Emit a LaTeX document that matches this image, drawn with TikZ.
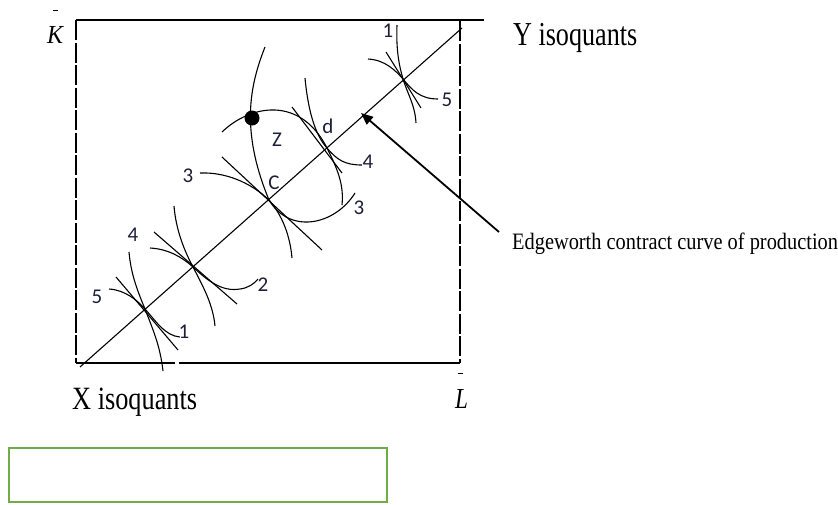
\documentclass[tikz,border=0pt]{standalone}
\usepackage{fontspec}
\setmainfont{Liberation Serif}
\newfontfamily\numfont{Carlito}
\usetikzlibrary{arrows.meta}
\definecolor{numc}{RGB}{30,30,55}
\definecolor{boxgreen}{RGB}{112,173,71}
\begin{document}
\begin{tikzpicture}[x=1pt,y=-1pt,
  curve/.style={line width=1.1pt, black},
  tline/.style={line width=1.1pt, black},
  edge/.style={line width=1.7pt, black},
  dashedge/.style={line width=1.7pt, black, dash pattern=on 20pt off 2.5pt},
  num/.style={font=\numfont\fontsize{21}{22}\selectfont, inner sep=0pt, text=numc},
  serifbig/.style={inner sep=0pt, anchor=base west}]
\useasboundingbox (0,0) rectangle (838,504);

% box
\draw[edge] (76,20) -- (372,20);
\draw[line width=1.3pt] (372,20) -- (484,20);
\draw[dashedge] (76,20) -- (76,363);
\draw[dashedge] (460,21) -- (460,363);
\draw[line width=1.4pt] (76,363) -- (175,363);
\draw[line width=1.4pt] (179,363) -- (460,363);

% diagonal (contract curve)
\coordinate (Ox) at (80,367);
\coordinate (Oy) at (462,28);
\draw[tline] (Ox) -- (Oy);

% tangency points
\coordinate (P1) at (145,309);
\coordinate (P2) at (193,267);
\coordinate (C) at (269,200);
\coordinate (D) at (327,148);
\coordinate (P5) at (403,79);

% point P1
\draw[curve] (109,289) .. controls (125,290) and (137,300) .. (P1)
             .. controls (155,320) and (165,336) .. (180,337);
\draw[curve] (129,252) .. controls (131,275) and (138,292) .. (P1)
             .. controls (153,330) and (160,345) .. (163,371);
\draw[tline] (116,277) -- (178,350);

% point P2
\draw[curve] (150,248) .. controls (168,249) and (182,257) .. (P2)
             .. controls (208,281) and (222,292) .. (240,289)
             .. controls (248,288) and (254,284) .. (258,279);
\draw[curve] (174,206) .. controls (176,230) and (184,250) .. (P2)
             .. controls (204,288) and (213,305) .. (215,326);
\draw[tline] (154,232) -- (237,304);

% point C
\draw[curve] (200,173) .. controls (225,172) and (250,182) .. (C)
             .. controls (282,215) and (290,235) .. (292,258);
\draw[curve] (265,47) .. controls (250,85) and (240,130) .. (C)
             .. controls (290,235) and (335,225) .. (355,193);
\draw[tline] (222,157) -- (322,250);

% point d
\draw[curve] (222,132) .. controls (250,105) and (300,95) .. (D)
             .. controls (338,170) and (344,185) .. (342,205);
\draw[curve] (305,78) .. controls (308,110) and (315,135) .. (D)
             .. controls (337,160) and (345,165) .. (362,165);
\draw[tline] (292,107) -- (342,173);

% point P5
\draw[curve] (368,59) .. controls (385,60) and (395,70) .. (P5)
             .. controls (412,90) and (420,99) .. (438,99);
\draw[curve] (397,25) .. controls (396,50) and (399,65) .. (P5)
             .. controls (408,95) and (415,105) .. (416,123);
\draw[tline] (386,52) -- (421,108);

% dot Z
\fill (252,118) circle (7.5pt);

% numbers
\node[num] (n1t) at (388,31) {1};
\node[num] (n5t) at (447,100) {5};
\node[num] (nd) at (328,126) {d};
\node[num] (nZ) at (277,140) {Z};
\node[num] (n4r) at (368,162) {4};
\node[num] (n3r) at (359,208) {3};
\node[num] (n3l) at (188,176) {3};
\node[num] (nC) at (274,183) {C};
\node[num] (n4l) at (133,235) {4};
\node[num] (n2) at (263,285) {2};
\node[num] (n5l) at (97,297) {5};
\node[num] (n1b) at (184,332) {1};

% arrow
\coordinate (arrS) at (499,232);
\coordinate (arrT) at (361,113);
\draw[line width=1.8pt, -{Triangle[length=12pt,width=10pt]}] (arrS) -- (arrT);

% labels
\node[serifbig, xscale=0.78, font=\fontsize{33.5}{36}\selectfont] (ylab) at (513,45) {Y isoquants};
\node[serifbig, xscale=0.81, font=\fontsize{32.5}{35}\selectfont] (xlab) at (72,409) {X isoquants};
\node[serifbig, xscale=0.867, font=\fontsize{23.5}{26}\selectfont] (elab) at (512,249) {Edgeworth contract curve of production};
\node[serifbig, xscale=0.92, font=\fontsize{26}{28}\selectfont] (klab) at (47,43) {\textit{K}};
\draw[line width=1pt] (53,10) -- (57.5,10);
\node[serifbig, xscale=0.8, font=\fontsize{29}{31}\selectfont] (llab) at (455,408) {\textit{L}};
\draw[line width=1pt] (458,373) -- (462.5,373);

% green box
\draw[boxgreen, line width=2pt] (9,448) rectangle (387,502);
\end{tikzpicture}
\end{document}
